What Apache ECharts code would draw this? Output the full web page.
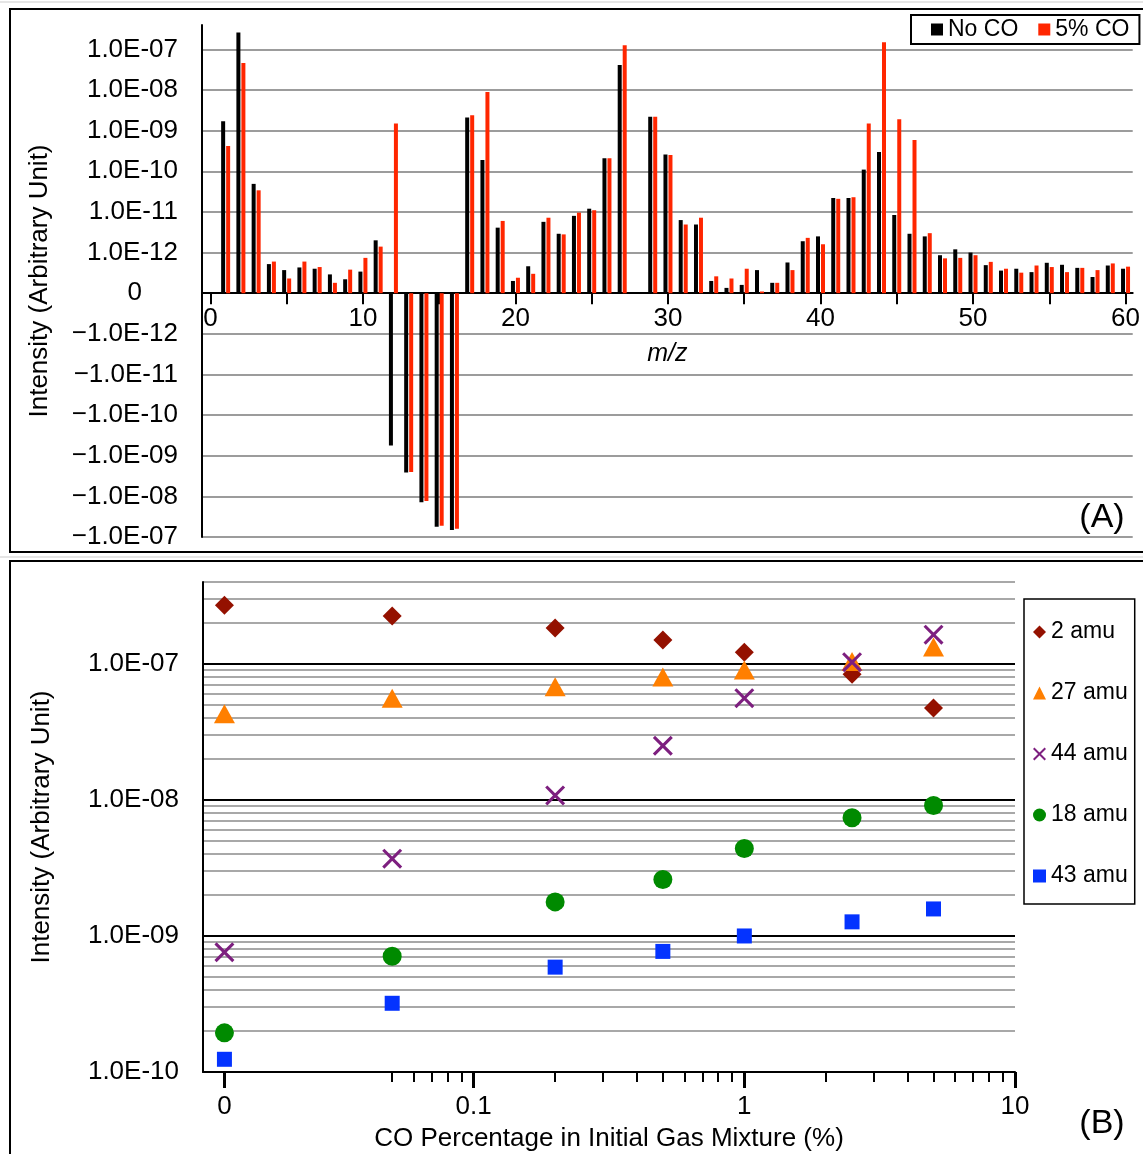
<!DOCTYPE html>
<html><head><meta charset="utf-8">
<script src="https://cdn.jsdelivr.net/npm/echarts@6/dist/echarts.min.js"></script>
<style>html,body{margin:0;padding:0;background:#fff}#c{width:1143px;height:1154px}</style>
</head><body><div id="c"></div>
<script>
// ---------- Panel A data (m/z spectrum) ----------
const mz = [1,2,3,4,5,6,7,8,9,10,11,12,13,14,15,16,17,18,19,20,21,22,23,24,25,26,27,28,29,30,
            31,32,33,34,35,36,37,38,39,40,41,42,43,44,45,46,47,48,49,50,51,52,53,54,55,56,57,58,59,60];
const noCO = [1.7e-9,2.6e-7,4.9e-11,5.2e-13,3.7e-13,4.3e-13,4.0e-13,2.9e-13,2.2e-13,3.4e-13,
              2.0e-12,-5.6e-10,-2.6e-9,-1.4e-8,-5.6e-8,-6.7e-8,2.1e-9,1.9e-10,4.1e-12,2.0e-13,
              4.6e-13,5.7e-12,2.9e-12,8.0e-12,1.2e-11,2.1e-10,4.1e-8,null,2.2e-9,2.6e-10,
              6.3e-12,4.9e-12,2.0e-13,1.35e-13,1.6e-13,3.7e-13,1.8e-13,5.7e-13,1.9e-12,2.5e-12,
              2.2e-11,2.2e-11,1.1e-10,3.0e-10,8.4e-12,2.9e-12,2.5e-12,8.6e-13,1.2e-12,1.0e-12,
              4.9e-13,3.6e-13,4.0e-13,3.3e-13,5.6e-13,5.0e-13,4.2e-13,2.5e-13,4.8e-13,4.0e-13];
const co5 = [4.2e-10,4.6e-8,3.4e-11,6.0e-13,2.3e-13,6.0e-13,4.4e-13,1.8e-13,3.8e-13,7.4e-13,
             1.4e-12,1.5e-9,-2.5e-9,-1.3e-8,-5.3e-8,-6.3e-8,2.4e-9,8.9e-9,6.0e-12,2.4e-13,
             3.0e-13,7.2e-12,2.8e-12,9.6e-12,1.1e-11,2.1e-10,1.27e-7,null,2.2e-9,2.5e-10,
             4.9e-12,7.2e-12,2.6e-13,2.3e-13,4.0e-13,1.1e-13,1.8e-13,3.7e-13,2.3e-12,1.6e-12,
             2.1e-11,2.3e-11,1.5e-9,1.5e-7,1.9e-9,5.9e-10,3.0e-12,7.2e-13,7.4e-13,8.6e-13,
             5.9e-13,4.0e-13,3.2e-13,4.8e-13,4.4e-13,3.3e-13,4.2e-13,3.7e-13,5.4e-13,4.5e-13];
const aTickMz = [0,5,10,15,20,25,30,35,40,45,50,55,60];
const aLabelMz = [0,10,20,30,40,50,60];
const aYTicks = [-1e-7,-1e-8,-1e-9,-1e-10,-1e-11,-1e-12,0,1e-12,1e-11,1e-10,1e-9,1e-8,1e-7];

// ---------- Panel B data ----------
const coPct = [0, 0.05, 0.2, 0.5, 1, 2.5, 5];
const amu2  = [2.7e-7, 2.25e-7, 1.84e-7, 1.5e-7, 1.22e-7, 8.4e-8, 4.75e-8];
const amu27 = [4.3e-8, 5.6e-8, 6.8e-8, 8.0e-8, 9.0e-8, 1.04e-7, 1.33e-7];
const amu44 = [7.6e-10, 3.7e-9, 1.08e-8, 2.5e-8, 5.6e-8, 1.03e-7, 1.64e-7];
const amu18 = [1.94e-10, 7.1e-10, 1.78e-9, 2.6e-9, 4.4e-9, 7.4e-9, 9.1e-9];
const amu43 = [1.24e-10, 3.2e-10, 5.9e-10, 7.7e-10, 1.0e-9, 1.27e-9, 1.58e-9];
const bXMajor = [0, 0.1, 1, 10];
const bXMinor = [0.05,0.06,0.07,0.08,0.09,0.2,0.3,0.4,0.5,0.6,0.7,0.8,0.9,2,3,4,5,6,7,8,9];
const bYMajor = [1e-10, 1e-9, 1e-8, 1e-7];
const bYMinor = [2e-10,3e-10,4e-10,5e-10,6e-10,7e-10,8e-10,9e-10,
                 2e-9,3e-9,4e-9,5e-9,6e-9,7e-9,8e-9,9e-9,
                 2e-8,3e-8,4e-8,5e-8,6e-8,7e-8,8e-8,9e-8,
                 2e-7,3e-7,4e-7];
const ZERO_AT = 0.012;  // where "0 %" sits on the log axis
const B_XMIN = 0.01, B_XMAX = 10, B_YMIN = 1e-10, B_YMAX = 4e-7;

// ---------- helpers ----------
const FONT = '"Liberation Sans", Arial, Helvetica, sans-serif';
const LBL = 26;
const symlog = v => (v === 0 ? 0 : Math.sign(v) * (Math.log10(Math.abs(v)) + 13));
const lg = v => Math.log10(v);
const pad2 = n => (n < 10 ? '0' + n : '' + n);
const xPos = p => lg(p === 0 ? ZERO_AT : p);

const A_YMIN = -6, A_YMAX = 6.6, A_TOP = 25, A_H = 512;
// x axis of panel A sits on the zero line: shift it up from the grid bottom
const aXOffset = -(0 - A_YMIN) / (A_YMAX - A_YMIN) * A_H;

const aYFmt = t => {
  const r = Math.round(t);
  if (r === 0) return '{z|0}';
  return (r < 0 ? '\u2212' : '') + '1.0E-' + pad2(13 - Math.abs(r));
};
const bYFmt = v => '1.0E-' + pad2(-Math.round(v));
const bXFmt = v => {
  if (v < -1.5) return '0';
  const p = Math.pow(10, Math.round(v));
  return p < 1 ? p.toFixed(1) : String(p);
};

const barData = arr => mz.map((m, i) => arr[i] == null ? null : [m, symlog(arr[i])]).filter(d => d);
const scData = arr => coPct.map((p, i) => [xPos(p), lg(arr[i])]);

const crossPath = 'path://M0,1.1L1.1,0L10,8.9L8.9,10Z M8.9,0L10,1.1L1.1,10L0,8.9Z';

const blackLine = { color: '#000', width: 2 };
const txt = { color: '#000', fontFamily: FONT };

const option = {
  animation: false,
  backgroundColor: '#fff',
  textStyle: { fontFamily: FONT, color: '#000' },
  grid: [
    { left: 202, top: A_TOP, width: 941, height: A_H },
    { left: 203, top: 582, width: 812, height: 490 }
  ],
  xAxis: [
    {
      gridIndex: 0, type: 'value', min: -0.55, max: 60.47, position: 'bottom', offset: aXOffset,
      axisLine: { onZero: false, lineStyle: blackLine },
      axisTick: { customValues: aTickMz, length: 11, lineStyle: blackLine },
      axisLabel: { customValues: aLabelMz, fontSize: LBL, margin: 13, ...txt },
      splitLine: { show: false },
      name: 'm/z', nameLocation: 'middle', nameGap: 48,
      nameTextStyle: { fontSize: 25, fontStyle: 'italic', ...txt }
    },
    {
      gridIndex: 1, type: 'value', min: lg(B_XMIN), max: lg(B_XMAX), position: 'bottom',
      axisLine: { onZero: false, lineStyle: blackLine },
      axisTick: { customValues: bXMajor.map(xPos), length: 16, lineStyle: { color: '#000', width: 3 } },
      axisLabel: { customValues: bXMajor.map(xPos), formatter: bXFmt, fontSize: LBL, margin: 22, ...txt },
      splitLine: { show: false },
      name: 'CO Percentage in Initial Gas Mixture (%)', nameLocation: 'middle', nameGap: 54,
      nameTextStyle: { fontSize: 26, ...txt }
    },
    {
      gridIndex: 1, type: 'value', min: lg(B_XMIN), max: lg(B_XMAX), position: 'bottom', offset: 0,
      axisLine: { show: false, onZero: false },
      axisTick: { customValues: bXMinor.map(xPos), length: 10, lineStyle: blackLine },
      axisLabel: { show: false },
      splitLine: { show: false }
    }
  ],
  yAxis: [
    {
      gridIndex: 0, type: 'value', min: A_YMIN, max: A_YMAX,
      axisLine: { show: true, onZero: false, lineStyle: blackLine },
      axisTick: { show: false, customValues: aYTicks.map(symlog) },
      axisLabel: { customValues: aYTicks.map(symlog), formatter: aYFmt, fontSize: LBL, margin: 24, ...txt,
                   rich: { z: { fontSize: LBL, fontFamily: FONT, color: '#000', padding: [0, 36, 0, 0] } } },
      splitLine: { show: true, lineStyle: { color: '#9c9c9c', width: 2 } },
      name: 'Intensity (Arbitrary Unit)', nameLocation: 'middle', nameGap: 149,
      nameTextStyle: { fontSize: 26, ...txt }
    },
    {
      gridIndex: 1, type: 'value', min: lg(B_YMIN), max: lg(B_YMAX),
      axisLine: { show: true, onZero: false, lineStyle: blackLine },
      axisTick: { show: false, customValues: bYMajor.map(lg) },
      axisLabel: { customValues: bYMajor.map(lg), formatter: bYFmt, fontSize: LBL, margin: 24, ...txt },
      splitLine: { show: true, lineStyle: { color: '#000', width: 2 } },
      name: 'Intensity (Arbitrary Unit)', nameLocation: 'middle', nameGap: 148,
      nameTextStyle: { fontSize: 26, ...txt }
    },
    {
      gridIndex: 1, type: 'value', min: lg(B_YMIN), max: lg(B_YMAX), position: 'left', offset: 0,
      axisLine: { show: false, onZero: false },
      axisTick: { show: false, customValues: bYMinor.map(lg) },
      axisLabel: { show: false },
      splitLine: { show: true, lineStyle: { color: '#a8a8a8', width: 2 } }
    }
  ],
  legend: [
    {
      data: ['No CO', '5% CO'], orient: 'horizontal', left: 911, top: 15,
      icon: 'rect', itemWidth: 12, itemHeight: 12, itemGap: 20,
      padding: [3, 10, 3, 20], borderColor: '#000', borderWidth: 2,
      textStyle: { fontSize: 23, lineHeight: 23, ...txt }
    },
    {
      data: ['2 amu', '27 amu', '44 amu', '18 amu', '43 amu'], orient: 'vertical', left: 1024, top: 599,
      itemWidth: 13, itemHeight: 13, itemGap: 37,
      padding: [21, 7, 16, 9], borderColor: '#000', borderWidth: 1.5,
      textStyle: { fontSize: 23, lineHeight: 24, ...txt }
    }
  ],
  graphic: [
    { type: 'line', shape: { x1: 0, y1: 2, x2: 1143, y2: 2 }, style: { stroke: '#dddddd', lineWidth: 1.5 }, z: 100 },
    { type: 'line', shape: { x1: 0, y1: 557, x2: 1143, y2: 557 }, style: { stroke: '#dddddd', lineWidth: 1.5 }, z: 100 },
    { type: 'rect', shape: { x: 10, y: 9, width: 1150, height: 543 }, style: { fill: 'none', stroke: '#000', lineWidth: 2 }, z: 100 },
    { type: 'rect', shape: { x: 10, y: 561, width: 1150, height: 620 }, style: { fill: 'none', stroke: '#000', lineWidth: 2 }, z: 100 },
    { type: 'text', x: 1102, y: 518, style: { text: '(A)', fontSize: 34, fontFamily: FONT, fill: '#000', align: 'center', verticalAlign: 'middle' }, z: 100 },
    { type: 'text', x: 1102, y: 1124, style: { text: '(B)', fontSize: 34, fontFamily: FONT, fill: '#000', align: 'center', verticalAlign: 'middle' }, z: 100 }
  ],
  series: [
    { name: 'No CO', type: 'bar', xAxisIndex: 0, yAxisIndex: 0, data: barData(noCO),
      barWidth: 4, barGap: '25%', itemStyle: { color: '#000' } },
    { name: '5% CO', type: 'bar', xAxisIndex: 0, yAxisIndex: 0, data: barData(co5),
      barWidth: 4, barGap: '25%', itemStyle: { color: '#ff2600' } },
    { name: '2 amu', type: 'scatter', xAxisIndex: 1, yAxisIndex: 1, data: scData(amu2),
      symbol: 'diamond', symbolSize: 19, itemStyle: { color: '#941100', opacity: 1 } },
    { name: '27 amu', type: 'scatter', xAxisIndex: 1, yAxisIndex: 1, data: scData(amu27),
      symbol: 'triangle', symbolSize: [21, 19], itemStyle: { color: '#ff7f00', opacity: 1 } },
    { name: '44 amu', type: 'scatter', xAxisIndex: 1, yAxisIndex: 1, data: scData(amu44),
      symbol: crossPath, symbolSize: 20, itemStyle: { color: '#7d1f7f', opacity: 1 } },
    { name: '18 amu', type: 'scatter', xAxisIndex: 1, yAxisIndex: 1, data: scData(amu18),
      symbol: 'circle', symbolSize: 19, itemStyle: { color: '#008a00', opacity: 1 } },
    { name: '43 amu', type: 'scatter', xAxisIndex: 1, yAxisIndex: 1, data: scData(amu43),
      symbol: 'rect', symbolSize: 15, itemStyle: { color: '#0433ff', opacity: 1 } }
  ]
};

const chart = echarts.init(document.getElementById('c'), null, { renderer: 'canvas' });
chart.setOption(option);
</script>
</body></html>
